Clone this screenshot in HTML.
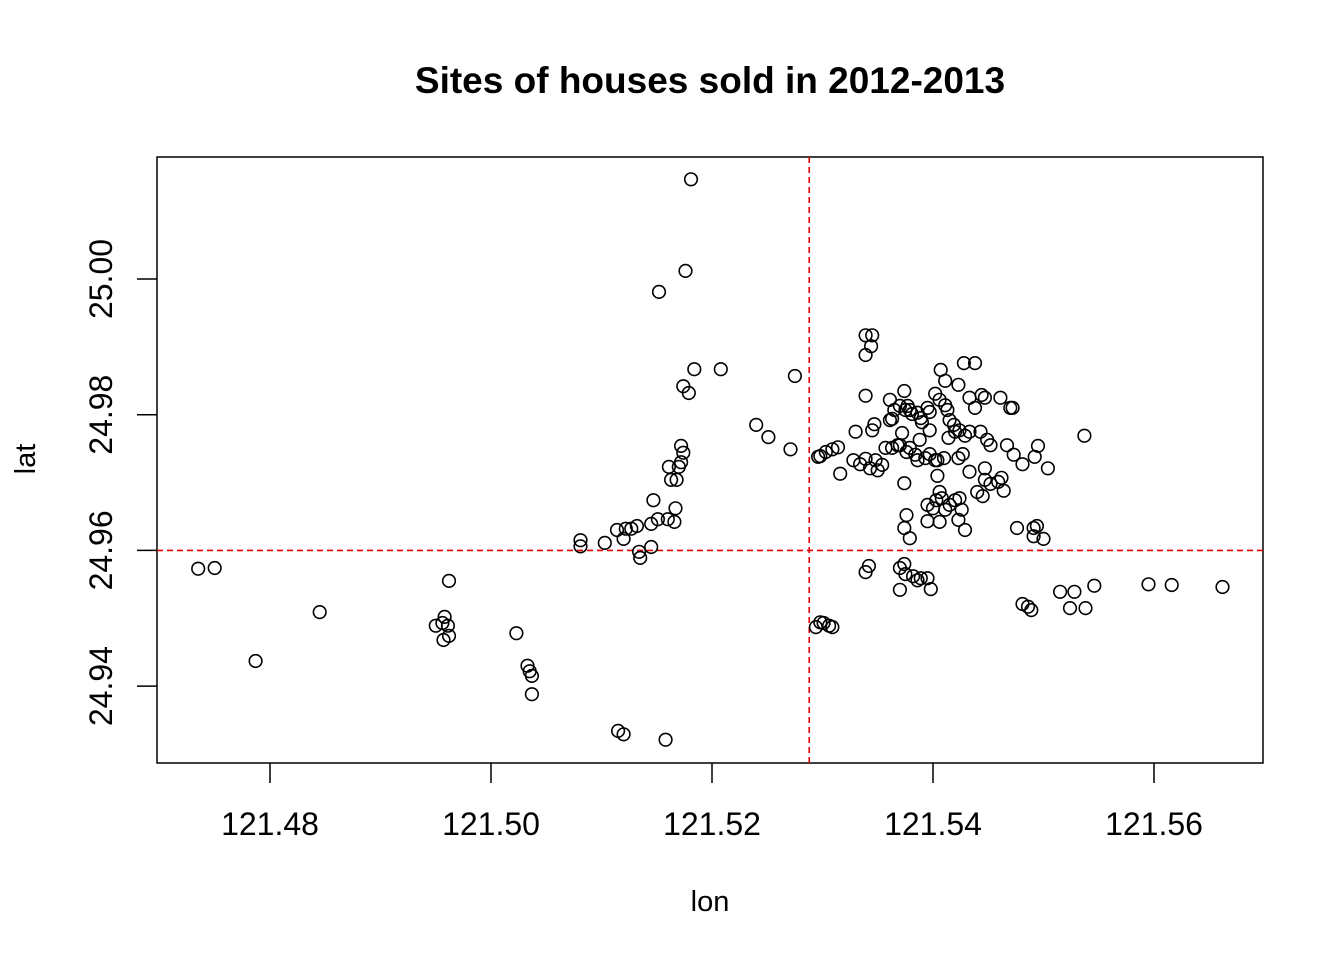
<!DOCTYPE html>
<html><head><meta charset="utf-8"><style>
html,body{margin:0;padding:0;background:#fff;}
svg{display:block;font-family:"Liberation Sans",Arial,sans-serif;}
</style></head><body>
<svg id="chart" width="1344" height="960" viewBox="0 0 1344 960" xmlns="http://www.w3.org/2000/svg">
<rect width="1344" height="960" fill="#fff"/>
<text x="710" y="93" text-anchor="middle" font-size="37" font-weight="bold">Sites of houses sold in 2012-2013</text>
<text x="710" y="911" text-anchor="middle" font-size="29">lon</text>
<text transform="translate(35,459) rotate(-90)" text-anchor="middle" font-size="29">lat</text>
<rect x="157" y="157" width="1106" height="606" fill="none" stroke="#000" stroke-width="1.5"/>
<g id="xticks"></g><g id="yticks"></g><g id="refs"></g><g id="points"></g>
</svg>
<script>
const xTicks=[121.48,121.50,121.52,121.54,121.56];
const yTicks=[24.94,24.96,24.98,25.00];
const refLon=121.5288;
const refLat=24.96;
const lon=[121.4735,121.4750,121.4787,121.4845,121.4962,121.4950,121.4956,121.4958,121.4961,121.4957,121.4962,121.5023,121.5033,121.5035,121.5037,121.5037,121.5115,121.5120,121.5158,
121.5081,121.5081,121.5103,121.5114,121.5120,121.5122,121.5127,121.5132,121.5134,121.5135,121.5145,121.5145,121.5147,121.5151,121.5160,121.5166,121.5167,121.5163,121.5161,121.5168,121.5170,121.5172,121.5174,121.5172,121.5174,121.5179,121.5184,121.5152,121.5176,121.5181,121.5208,121.5240,121.5251,121.5271,121.5275,
121.5294,121.5298,121.5301,121.5306,121.5309,121.5339,121.5342,121.5370,121.5370,121.5374,121.5375,121.5382,121.5386,121.5389,121.5395,121.5398,121.5481,121.5486,121.5489,121.5515,121.5524,121.5528,121.5538,121.5546,121.5595,121.5616,121.5662,121.5537,121.5476,121.5491,121.5494,121.5491,121.5500,
121.5339,121.5345,121.5344,121.5339,121.5339,121.5339,121.5347,121.5345,121.5330,121.5328,121.5316,121.5314,121.5309,121.5303,121.5298,121.5296,
121.5361,121.5363,121.5365,121.5370,121.5374,121.5375,121.5377,121.5379,121.5386,121.5390,121.5395,121.5397,121.5402,121.5406,121.5411,121.5413,121.5415,121.5419,121.5424,121.5429,121.5433,121.5427,121.5423,121.5428,121.5438,121.5407,121.5411,121.5423,121.5433,121.5438,121.5444,121.5447,121.5461,121.5470,121.5472,121.5467,121.5473,121.5481,121.5495,121.5492,121.5504,121.5462,121.5459,121.5464,121.5452,121.5447,121.5445,121.5440,121.5449,121.5452,121.5443,121.5433,121.5447,
121.5370,121.5376,121.5379,121.5384,121.5386,121.5393,121.5397,121.5402,121.5404,121.5410,121.5404,121.5395,121.5400,121.5403,121.5406,121.5408,121.5411,121.5415,121.5420,121.5424,121.5426,121.5423,121.5429,121.5406,121.5395,121.5374,121.5376,121.5374,121.5379,121.5334,121.5343,121.5350,121.5354,121.5363,121.5368,121.5348,121.5357,121.5372,121.5388,121.5397,121.5361,121.5381,121.5389,121.5414,121.5420];
const lat=[24.9573,24.9574,24.9437,24.9509,24.9555,24.9489,24.9493,24.9502,24.9489,24.9468,24.9474,24.9478,24.9430,24.9422,24.9415,24.9388,24.9334,24.9329,24.9321,
24.9615,24.9606,24.9611,24.9630,24.9617,24.9632,24.9632,24.9636,24.9598,24.9589,24.9605,24.9639,24.9674,24.9646,24.9646,24.9642,24.9662,24.9704,24.9723,24.9704,24.9723,24.9730,24.9744,24.9754,24.9842,24.9832,24.9867,24.9981,25.0012,25.0147,24.9867,24.9785,24.9767,24.9749,24.9857,
24.9487,24.9494,24.9493,24.9489,24.9487,24.9568,24.9577,24.9574,24.9542,24.9580,24.9565,24.9562,24.9556,24.9559,24.9559,24.9543,24.9521,24.9517,24.9512,24.9539,24.9515,24.9539,24.9515,24.9548,24.9550,24.9549,24.9546,24.9769,24.9633,24.9633,24.9636,24.9621,24.9617,
24.9917,24.9917,24.9901,24.9888,24.9828,24.9735,24.9786,24.9777,24.9775,24.9733,24.9713,24.9752,24.9749,24.9745,24.9739,24.9738,
24.9822,24.9794,24.9807,24.9813,24.9835,24.9807,24.9813,24.9807,24.9803,24.9789,24.9810,24.9804,24.9831,24.9822,24.9814,24.9807,24.9792,24.9785,24.9777,24.9769,24.9775,24.9742,24.9736,24.9876,24.9876,24.9866,24.9850,24.9844,24.9825,24.9810,24.9829,24.9825,24.9825,24.9810,24.9810,24.9755,24.9741,24.9727,24.9754,24.9738,24.9721,24.9707,24.9701,24.9688,24.9698,24.9704,24.9680,24.9686,24.9763,24.9755,24.9775,24.9716,24.9721,
24.9755,24.9745,24.9751,24.9741,24.9733,24.9736,24.9742,24.9733,24.9733,24.9736,24.9710,24.9667,24.9662,24.9674,24.9686,24.9677,24.9660,24.9667,24.9674,24.9677,24.9660,24.9645,24.9630,24.9642,24.9643,24.9699,24.9652,24.9633,24.9618,24.9727,24.9721,24.9718,24.9726,24.9751,24.9755,24.9733,24.9751,24.9773,24.9763,24.9777,24.9792,24.9801,24.9795,24.9766,24.9775];
const NS='http://www.w3.org/2000/svg';
function xS(v){return 270+(v-121.48)*11050;}
function yS(v){return 279-(v-25.00)*6785;}
function mk(tag,attrs,parent){const e=document.createElementNS(NS,tag);for(const k in attrs)e.setAttribute(k,attrs[k]);parent.appendChild(e);return e;}
const gx=document.getElementById('xticks'),gy=document.getElementById('yticks'),gr=document.getElementById('refs'),gp=document.getElementById('points');
xTicks.forEach(t=>{const x=xS(t);
 const l=mk('line',{x1:x,y1:763,x2:x,y2:783,stroke:'#000','stroke-width':1.5},gx);
 
 
 const tx=mk('text',{x:x,y:835,'text-anchor':'middle','font-size':32},gx);tx.textContent=t.toFixed(2);
 
 
});
yTicks.forEach(t=>{const y=yS(t);
 const l=mk('line',{x1:137,y1:y,x2:157,y2:y,stroke:'#000','stroke-width':1.5},gy);
 
 
 const tx=mk('text',{transform:`translate(112,${y}) rotate(-90)`,'text-anchor':'middle','font-size':32},gy);tx.textContent=t.toFixed(2);
 
 
});
const vl=mk('line',{x1:xS(refLon),y1:157,x2:xS(refLon),y2:763,stroke:'#e00000','stroke-width':1.6,'stroke-dasharray':'6,4'},gr);


const hl=mk('line',{x1:157,y1:yS(refLat),x2:1263,y2:yS(refLat),stroke:'#e00000','stroke-width':1.6,'stroke-dasharray':'6,4'},gr);


for(let i=0;i<lon.length;i++){
 const c=mk('circle',{cx:xS(lon[i]).toFixed(1),cy:yS(lat[i]).toFixed(1),r:6.3,fill:'none',stroke:'#000','stroke-width':1.6},gp);
 
 
}
</script>
</body></html>
